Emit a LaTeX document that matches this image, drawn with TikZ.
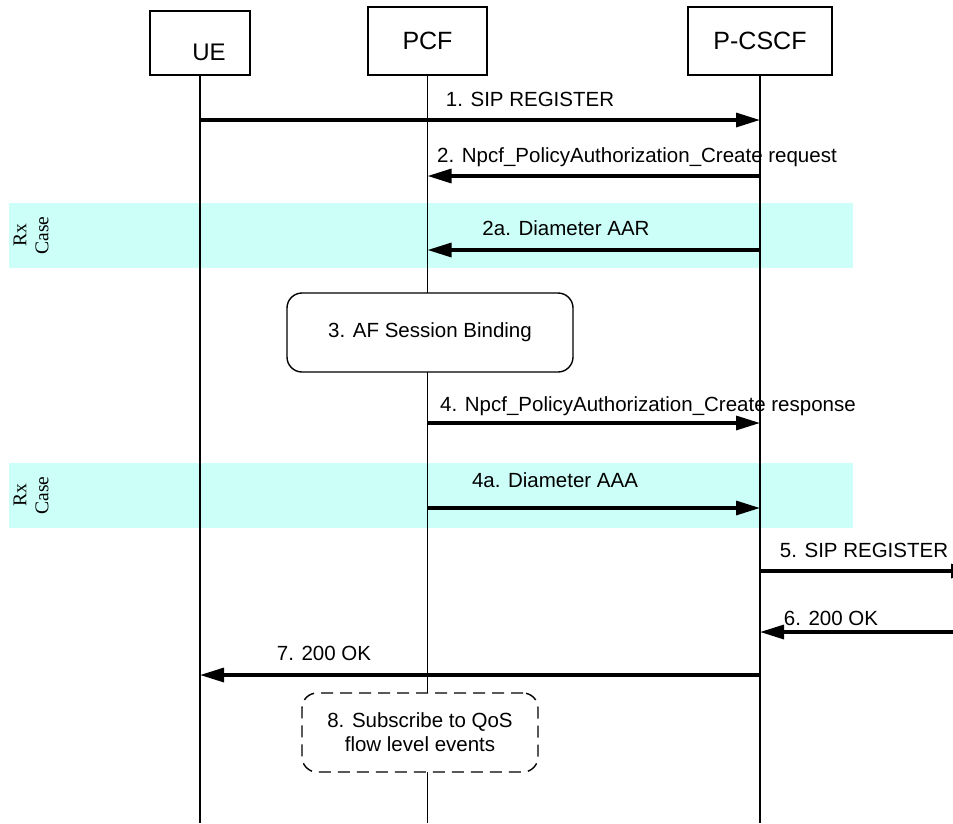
\documentclass[tikz,border=0pt]{standalone}
\usepackage{fontspec}
\setmainfont{Liberation Sans}
\newfontfamily\rxfont{Liberation Serif}
\usetikzlibrary{positioning,arrows.meta}
\definecolor{rxcyan}{RGB}{204,255,248}
\tikzset{
  msgarrow/.style={-{Triangle[length=24pt, width=14pt]}, line width=3.2pt},
  lifeline/.style={line width=1.5pt},
  headbox/.style={draw, line width=1.4pt, fill=white, inner sep=0pt, font=\fontsize{25}{30}\selectfont},
  headtext/.style={inner sep=0pt, font=\fontsize{24}{29}\selectfont},
  msglabel/.style={anchor=base, inner sep=0pt, font=\fontsize{20.5}{24}\selectfont},
  procbox/.style={draw, line width=1.4pt, rounded corners=15pt, fill=white, align=center, font=\fontsize{20.5}{24}\selectfont},
  subbox/.style={procbox, dash pattern=on 12pt off 7pt},
  rxband/.style={fill=rxcyan, inner sep=0pt, minimum width=844pt, minimum height=65pt},
  rxlabel/.style={rotate=90, align=center, inner sep=0pt, font=\rxfont\fontsize{19.5}{22}\selectfont}
}
\begin{document}
\begin{tikzpicture}[x=1pt, y=-1pt]
  \useasboundingbox (0,0) rectangle (953,823);
  \node[rxband] (rxone) at (431,235.5) {};
  \node[rxband] (rxtwo) at (431,495.5) {};
  \node[rxlabel] (rxonetxt) at (31,235.5) {Rx\\Case};
  \node[rxlabel] (rxtwotxt) at (31,495.5) {Rx\\Case};
  \node[headbox, minimum width=100pt, minimum height=64pt] (ue) at (200,43) {};
  \node[headbox, minimum width=119pt, minimum height=68pt] (pcf) at (427.5,41) {PCF};
  \node[headbox, minimum width=144pt, minimum height=68pt] (pcscf) at (760,41) {P-CSCF};
  \node[headtext] (uetxt) at (209,52) {UE};
  \coordinate (bottom) at (0,823);
  \draw[lifeline] (ue.south) -- (ue.south |- bottom);
  \draw[lifeline] (pcf.south) -- (pcf.south |- bottom);
  \draw[lifeline] (pcscf.south) -- (pcscf.south |- bottom);
  \node[procbox, minimum width=286pt, minimum height=79pt] (bind) at (430,332.5) {3. AF Session Binding};
  \node[subbox, minimum width=236pt, minimum height=79pt] (qos) at (420,732.5) {8. Subscribe to QoS\\flow level events};
  \coordinate (exitfive) at (975,571);
  \coordinate (entrysix) at (953,632);
  \draw[msgarrow] (ue.south |- 0,120) -- (pcscf.south |- 0,120);
  \draw[msgarrow] (pcscf.south |- 0,176) -- (pcf.south |- 0,176);
  \draw[msgarrow] (pcscf.south |- 0,250) -- (pcf.south |- 0,250);
  \draw[msgarrow] (pcf.south |- 0,423) -- (pcscf.south |- 0,423);
  \draw[msgarrow] (pcf.south |- 0,508) -- (pcscf.south |- 0,508);
  \draw[msgarrow] (pcscf.south |- exitfive) -- (exitfive);
  \draw[msgarrow] (entrysix) -- (pcscf.south |- entrysix);
  \draw[msgarrow] (pcscf.south |- 0,675) -- (ue.south |- 0,675);
  \node[msglabel] (mone) at (530,106.5) {1. SIP REGISTER};
  \node[msglabel] (mtwo) at (637,162.5) {2. Npcf\_PolicyAuthorization\_Create request};
  \node[msglabel] (mtwoa) at (566,235.5) {2a. Diameter AAR};
  \node[msglabel] (mfour) at (648,411) {4. Npcf\_PolicyAuthorization\_Create response};
  \node[msglabel] (mfoura) at (555,487.5) {4a. Diameter AAA};
  \node[msglabel] (mfive) at (864,557) {5. SIP REGISTER};
  \node[msglabel] (msix) at (831,625) {6. 200 OK};
  \node[msglabel] (mseven) at (324,660) {7. 200 OK};
\end{tikzpicture}
\end{document}
